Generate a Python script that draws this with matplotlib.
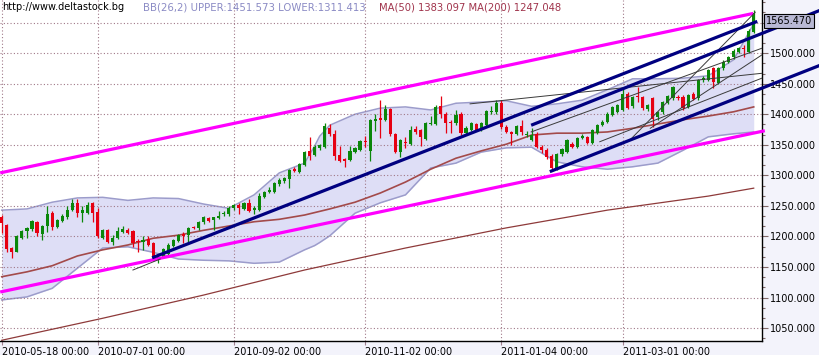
import matplotlib.pyplot as plt
import numpy as np

# ---- candles (one per bar, bar index 0..149) ----
opens = [1231, 1219, 1181, 1175, 1198, 1209, 1212, 1223, 1204, 1217,
         1238, 1215, 1226, 1232, 1243, 1255, 1239, 1239, 1255, 1240,
         1197, 1210, 1191, 1197, 1208, 1211, 1209, 1193, 1191, 1195,
         1189, 1162, 1167, 1172, 1184, 1193, 1204, 1202, 1215, 1213,
         1223, 1230, 1227, 1230, 1236, 1236, 1246, 1251, 1245, 1254,
         1243, 1244, 1265, 1273, 1273, 1285, 1290, 1294, 1310, 1306,
         1317, 1340, 1333, 1344, 1347, 1377, 1368, 1333, 1326, 1325,
         1339, 1342, 1357, 1340, 1389, 1394, 1391, 1408, 1368, 1339,
         1355, 1351, 1376, 1374, 1360, 1384, 1384, 1413, 1401, 1387,
         1385, 1400, 1369, 1374, 1384, 1375, 1383, 1403, 1403, 1419,
         1379, 1371, 1368, 1381, 1366, 1358, 1368, 1346, 1342, 1332,
         1312, 1335, 1339, 1351, 1347, 1361, 1362, 1353, 1370, 1382,
         1387, 1399, 1404, 1407, 1433, 1413, 1430, 1428, 1408, 1427,
         1395, 1403, 1418, 1426, 1428, 1429, 1412, 1433, 1426, 1456,
         1456, 1475, 1451, 1475, 1486, 1493, 1502, 1509, 1502, 1535]
highs = [1235, 1221, 1183, 1202, 1210, 1215, 1227, 1226, 1218, 1250,
         1241, 1228, 1236, 1250, 1262, 1262, 1250, 1257, 1257, 1246,
         1212, 1212, 1202, 1216, 1217, 1213, 1211, 1195, 1200, 1201,
         1191, 1168, 1181, 1189, 1196, 1204, 1208, 1215, 1217, 1225,
         1233, 1232, 1232, 1242, 1241, 1249, 1253, 1254, 1256, 1261,
         1250, 1271, 1275, 1281, 1289, 1295, 1298, 1310, 1313, 1320,
         1340, 1362, 1349, 1351, 1386, 1384, 1374, 1348, 1328, 1348,
         1346, 1358, 1364, 1392, 1401, 1423, 1415, 1410, 1370, 1360,
         1362, 1380, 1380, 1376, 1388, 1397, 1415, 1430, 1404, 1391,
         1407, 1403, 1380, 1388, 1386, 1387, 1407, 1413, 1423, 1423,
         1382, 1373, 1383, 1390, 1372, 1377, 1371, 1350, 1344, 1335,
         1337, 1345, 1360, 1354, 1363, 1367, 1364, 1376, 1384, 1390,
         1403, 1414, 1417, 1443, 1436, 1430, 1444, 1430, 1417, 1429,
         1406, 1422, 1432, 1446, 1432, 1431, 1433, 1436, 1458, 1462,
         1474, 1477, 1478, 1488, 1496, 1506, 1510, 1513, 1539, 1571]
lows = [1205, 1174, 1165, 1174, 1196, 1198, 1209, 1200, 1194, 1208,
        1210, 1213, 1224, 1228, 1241, 1232, 1224, 1237, 1224, 1197,
        1195, 1189, 1186, 1195, 1205, 1204, 1183, 1175, 1178, 1184,
        1160, 1157, 1165, 1170, 1182, 1191, 1190, 1191, 1212, 1211,
        1221, 1224, 1211, 1228, 1233, 1234, 1244, 1236, 1243, 1240,
        1237, 1242, 1263, 1271, 1271, 1283, 1288, 1280, 1305, 1304,
        1315, 1325, 1331, 1341, 1345, 1365, 1325, 1321, 1313, 1323,
        1337, 1340, 1347, 1323, 1373, 1361, 1389, 1365, 1336, 1330,
        1344, 1349, 1367, 1348, 1358, 1382, 1382, 1394, 1370, 1370,
        1383, 1366, 1366, 1372, 1373, 1373, 1381, 1401, 1401, 1376,
        1369, 1350, 1366, 1366, 1362, 1356, 1345, 1337, 1327, 1308,
        1308, 1332, 1336, 1345, 1345, 1359, 1351, 1351, 1368, 1380,
        1385, 1397, 1402, 1405, 1409, 1411, 1420, 1407, 1405, 1379,
        1390, 1400, 1416, 1424, 1424, 1407, 1410, 1423, 1424, 1452,
        1454, 1443, 1449, 1473, 1484, 1491, 1500, 1494, 1500, 1533]
closes = [1222, 1180, 1175, 1201, 1209, 1214, 1225, 1205, 1217, 1237,
          1216, 1227, 1234, 1244, 1254, 1239, 1243, 1252, 1239, 1200,
          1210, 1191, 1197, 1209, 1212, 1206, 1190, 1191, 1194, 1186,
          1166, 1166, 1179, 1186, 1194, 1202, 1200, 1213, 1213, 1224,
          1231, 1226, 1231, 1234, 1238, 1247, 1251, 1246, 1254, 1242,
          1246, 1266, 1273, 1276, 1287, 1293, 1296, 1309, 1307, 1318,
          1339, 1332, 1347, 1350, 1381, 1367, 1331, 1323, 1323, 1340,
          1344, 1356, 1355, 1390, 1392, 1391, 1408, 1367, 1339, 1358,
          1353, 1375, 1371, 1362, 1386, 1386, 1412, 1400, 1385, 1385,
          1399, 1369, 1377, 1386, 1375, 1385, 1405, 1406, 1419, 1379,
          1371, 1367, 1381, 1371, 1368, 1366, 1347, 1342, 1330, 1312,
          1335, 1343, 1358, 1347, 1361, 1364, 1353, 1374, 1382, 1388,
          1401, 1412, 1415, 1433, 1411, 1428, 1428, 1410, 1415, 1393,
          1404, 1420, 1430, 1444, 1427, 1410, 1431, 1425, 1456, 1459,
          1472, 1452, 1476, 1486, 1494, 1504, 1508, 1507, 1537, 1565]

# ---- indicators, read every 5 bars ----
band_idx = [0, 5, 10, 15, 20, 25, 30, 35, 40, 45, 50, 55, 60, 62, 63, 65,
            70, 75, 80, 85, 90, 95, 100, 105, 110, 115, 120, 125, 130, 135,
            140, 145, 149]
bb_upper = [1243, 1245, 1256, 1263, 1264, 1259, 1263, 1262, 1253, 1246,
            1268, 1304, 1320, 1348, 1364, 1382, 1400, 1410, 1412, 1407,
            1418, 1420, 1422, 1413, 1417, 1423, 1440, 1458, 1458, 1459,
            1463, 1489, 1548]
bb_lower = [1096, 1101, 1115, 1148, 1181, 1183, 1174, 1163, 1161, 1160,
            1156, 1158, 1178, 1185, 1190, 1201, 1238, 1255, 1268, 1312,
            1320, 1338, 1345, 1346, 1322, 1314, 1310, 1314, 1320, 1341,
            1363, 1368, 1371]
ma_idx = [0, 5, 10, 15, 20, 25, 30, 35, 40, 45, 50, 55, 60, 65, 70, 75,
          80, 85, 90, 95, 100, 105, 110, 115, 120, 125, 130, 135, 140, 145,
          149]
ma50 = [1134, 1142, 1152, 1168, 1178, 1186, 1197, 1202, 1210, 1217,
        1224, 1228, 1235, 1245, 1256, 1271, 1289, 1310, 1328, 1340,
        1351, 1366, 1369, 1369, 1371, 1377, 1384, 1391, 1397, 1404, 1412]
ma200_idx = [0, 20, 40, 60, 80, 100, 120, 140, 149]
ma200 = [1030, 1066, 1104, 1145, 1181, 1214, 1243, 1266, 1279]

# ---- hand drawn trend lines: (bar, price) -> (bar, price) ----
magenta_lines = [((-0.3, 1304), (148.9, 1565)),
                 ((-0.3, 1109), (151.2, 1373))]
navy_lines = [((29.8, 1165), (149.7, 1552)),
              ((104.9, 1382), (162.1, 1570)),
              ((108.6, 1306), (162.1, 1480))]
thin_lines = [((26.0, 1145), (31.4, 1163)),
              ((92.8, 1417), (150.6, 1467)),
              ((104.9, 1371), (150.6, 1508)),
              ((124.5, 1358), (149.3, 1567)),
              ((128.5, 1377), (150.6, 1497)),
              ((118.5, 1355), (150.6, 1459))]

date_idx = [0, 19, 46, 72, 99, 123]
date_labels = ['2010-05-18 00:00', '2010-07-01 00:00', '2010-09-02 00:00',
               '2010-11-02 00:00', '2011-01-04 00:00', '2011-03-01 00:00']
price_ticks = [1050, 1100, 1150, 1200, 1250, 1300, 1350, 1400, 1450, 1500, 1550]

plt.rcParams['font.family'] = ['DejaVu Sans']

fig = plt.figure(figsize=(8.2, 3.55), dpi=100, facecolor='#F3F3FB')
ax = fig.add_axes([0, 14 / 355, 762 / 820, 341 / 355])
ax.set_facecolor('white')
ax.set_xlim(-0.34, 150.64)
ax.set_ylim(1028.8, 1587)

# bollinger band
ub = np.array(bb_upper)
lb = np.array(bb_lower)
ax.fill_between(band_idx, lb, ub, color='#DEDEF6', lw=0, zorder=0.3)
ax.plot(band_idx, ub, color='#9C9CCB', lw=1.1, zorder=0.4)
ax.plot(band_idx, lb, color='#9C9CCB', lw=1.1, zorder=0.4)

# moving averages
ax.plot(ma_idx, ma50, color='#A34A4A', lw=1.2, zorder=1)
ax.plot(ma200_idx, ma200, color='#8E3A3A', lw=0.9, zorder=1)

# candles
o = np.array(opens)
h = np.array(highs)
l = np.array(lows)
c = np.array(closes)
x = np.arange(len(c))
cols = np.where(c >= o, '#0A870A', '#E60012')
ax.vlines(x, l, h, colors=cols, lw=0.9, zorder=2)
body = np.maximum(np.abs(c - o), 1.3)
ax.bar(x, body, bottom=np.minimum(o, c), width=0.62, color=cols, lw=0, zorder=2.1)

# trend lines
for (x0, y0), (x1, y1) in magenta_lines:
    ax.plot([x0, x1], [y0, y1], color='#FF00FF', lw=2.3, zorder=3,
            solid_capstyle='butt', clip_on=False)
for (x0, y0), (x1, y1) in thin_lines:
    ax.plot([x0, x1], [y0, y1], color='#3A3A3A', lw=0.7, zorder=3.2, clip_on=False)
for (x0, y0), (x1, y1) in navy_lines:
    ax.plot([x0, x1], [y0, y1], color='#000080', lw=2.3, zorder=3.5,
            solid_capstyle='butt', clip_on=False)

# axes look
for s in ['left', 'top']:
    ax.spines[s].set_visible(False)
for s in ['right', 'bottom']:
    ax.spines[s].set_color('black')
    ax.spines[s].set_linewidth(1.0)
ax.set_axisbelow(True)

ax.yaxis.tick_right()
ax.set_yticks(price_ticks, labels=[f'{v:.3f}' if v < 1550 else '' for v in price_ticks])
ax.set_yticks(np.arange(1033.33, 1587, 50 / 3), minor=True)
ax.tick_params(axis='y', which='major', length=4, width=0.8, color='#806868',
               labelsize=7, pad=1.5)
ax.tick_params(axis='y', which='minor', length=2, width=0.8, color='#806868')
ax.set_xticks(date_idx, labels=date_labels)
ax.tick_params(axis='x', length=3, width=0.8, color='#a08090', labelsize=7, pad=1)
for t in ax.get_xticklabels():
    t.set_horizontalalignment('left')

ax.grid(True, which='major', color='#A07888', linestyle=(0, (1, 2)), lw=0.8)

# current price box
ax.annotate(f'{closes[-1] + 0.47:.3f}', xy=(1, closes[-1]), xycoords=('axes fraction', 'data'),
            xytext=(3, -5.5), textcoords='offset points', fontsize=7, va='center', ha='left',
            bbox=dict(boxstyle='square,pad=0.2', fc='#B8B8D4', ec='black', lw=0.8),
            annotation_clip=False, zorder=5)

# header
fig.text(2 / 820, 1 - 2 / 355, 'http://www.deltastock.bg', fontsize=7, va='top', color='black')
fig.text(143 / 820, 1 - 2 / 355, 'BB(26,2) UPPER:1451.573 LOWER:1311.413', fontsize=7.3,
         va='top', color='#8A8AC4')
fig.text(379 / 820, 1 - 2 / 355, 'MA(50) 1383.097 MA(200) 1247.048', fontsize=7.2,
         va='top', color='#A0344C')

fig.savefig('out.png', dpi=100, facecolor=fig.get_facecolor())
